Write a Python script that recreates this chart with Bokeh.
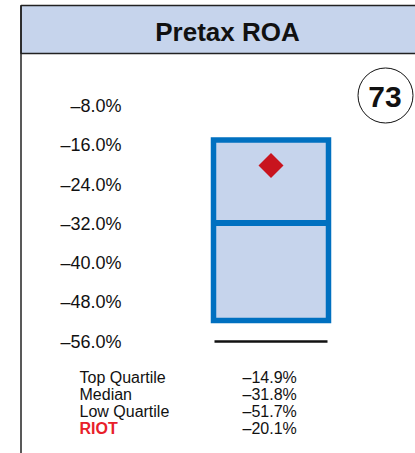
from bokeh.plotting import figure
from bokeh.models import Range1d, LinearAxis, FixedTicker
from bokeh.core.properties import value
from bokeh.embed import file_html
from bokeh.resources import INLINE
import math

# ---- data ----
title_text = "Pretax ROA"
rank = "73"
y_ticks = [-56.0, -48.0, -40.0, -32.0, -24.0, -16.0, -8.0]
top_quartile = -14.9
median = -31.8
low_quartile = -51.7
company = "RIOT"
company_value = -20.1
floor_value = -56.0
row_labels = ["Top Quartile", "Median", "Low Quartile", company]
row_values = [top_quartile, median, low_quartile, company_value]

def pct(v):
    s = f"{abs(v):.1f}%"
    return ("\u2013" + s) if v < 0 else s

W, H = 415, 453
FONT = "Liberation Sans"

p = figure(width=W, height=H, output_backend="svg", toolbar_location=None,
           x_range=Range1d(0, W), y_range=Range1d(-78.81, 13.54),
           x_axis_location=None, y_axis_location=None,
           min_border=0, min_border_left=0, min_border_right=0,
           min_border_top=0, min_border_bottom=0)
p.outline_line_color = None
p.grid.visible = False
p.background_fill_color = "white"
p.border_fill_color = "white"
p.extra_y_ranges = {"px": Range1d(H, 0)}

# y axis (labels only), placed inside the frame
yax = LinearAxis(fixed_location=124, ticker=FixedTicker(ticks=y_ticks))
yax.major_label_overrides = {t: pct(t) for t in y_ticks}
yax.axis_line_color = None
yax.major_tick_line_color = None
yax.minor_tick_line_color = None
yax.major_tick_in = 0
yax.major_tick_out = 0
yax.major_label_standoff = 3
yax.major_label_text_font = FONT
yax.major_label_text_font_size = "18px"
yax.major_label_text_color = "#111111"
p.add_layout(yax, "left")

# header band and frame line
p.quad(left=[20.5], right=[W + 30], top=[5], bottom=[53], y_range_name="px",
       fill_color="#C6D4EC", line_color="#222222", line_width=1.5)
p.segment(x0=[20.5], y0=[5], x1=[20.5], y1=[H + 5], y_range_name="px",
          line_color="#222222", line_width=1.5)
p.text(x=[227], y=[31], text=[title_text], y_range_name="px",
       text_font=value(FONT), text_font_style="bold", text_font_size="26px",
       text_align="center", text_baseline="middle", text_color="#111111")

# rank circle
p.scatter(x=[385], y=[95], size=55, marker="circle", y_range_name="px",
          fill_color="white", line_color="#111111", line_width=1)
p.text(x=[384.5], y=[96.5], text=[rank], y_range_name="px",
       text_font=value(FONT), text_font_style="bold", text_font_size="30px",
       text_align="center", text_baseline="middle", text_color="#111111")

# box
cx, half = 270.5, 57.5
p.quad(left=[cx - half], right=[cx + half], top=[top_quartile], bottom=[low_quartile],
       fill_color="#C6D4EC", line_color="#0070C0", line_width=5.5, line_join="miter")
p.segment(x0=[cx - half], y0=[median], x1=[cx + half], y1=[median],
          line_color="#0070C0", line_width=6)
p.segment(x0=[cx - half + 1], y0=[floor_value], x1=[cx + half - 1], y1=[floor_value],
          line_color="#111111", line_width=2.5)
p.scatter(x=[cx], y=[company_value], marker="square", angle=math.pi / 4, size=17.7,
          fill_color="#C8141E", line_color=None)

# table
row_y = [376.7 + 17.2 * i for i in range(len(row_labels))]
colors = ["#111111"] * 3 + ["#E8202A"]
styles = ["normal"] * 3 + ["bold"]
p.text(x=[79] * 4, y=row_y, text=row_labels, y_range_name="px",
       text_font=value(FONT), text_font_size="16px", text_baseline="middle",
       text_color=colors, text_font_style=styles)
p.text(x=[242] * 4, y=row_y, text=[pct(v) for v in row_values], y_range_name="px",
       text_font=value(FONT), text_font_size="16px", text_baseline="middle",
       text_color="#111111")

open("out.html", "w").write(file_html(p, INLINE))
